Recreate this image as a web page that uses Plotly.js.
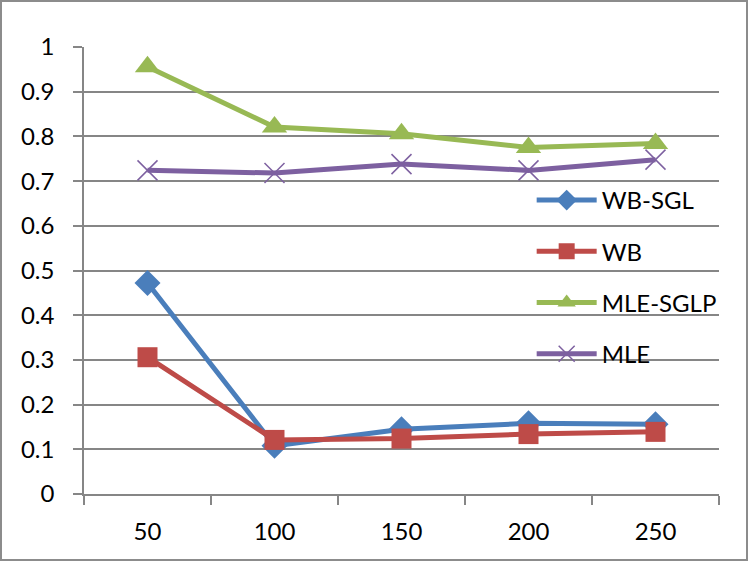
<!DOCTYPE html>
<html>
<head>
<meta charset="utf-8">
<script src="https://cdn.plot.ly/plotly-3.0.1.min.js"></script>
<style>
  html, body { margin: 0; padding: 0; background: #fff; }
  #myChart { width: 744px; height: 557px; border: 2px solid #8c8c8c; }
</style>
</head>
<body>
<div id="myChart"></div>
<script>
var categories = ["50", "100", "150", "200", "250"];
var wbSgl   = [0.472, 0.108, 0.145, 0.158, 0.156];
var wb      = [0.306, 0.121, 0.124, 0.134, 0.139];
var mleSglp = [0.956, 0.821, 0.806, 0.775, 0.784];
var mle     = [0.724, 0.718, 0.738, 0.724, 0.748];

var names   = ["WB-SGL", "WB", "MLE-SGLP", "MLE"];
var values  = [wbSgl, wb, mleSglp, mle];
var colours = ["#4a7ebb", "#be4b48", "#98b954", "#7d60a0"];
var symbols = ["diamond", "square", "triangle-up", "x-thin"];
var sizes   = [20, 20, 22, 20];

var data = [];
for (let i = 0; i < names.length; i++) {
  data.push({
    x: categories,
    y: values[i],
    name: names[i],
    legendgroup: names[i],
    type: 'scatter',
    mode: 'lines+markers',
    line: { color: colours[i], width: 5 },
    marker: {
      symbol: symbols[i],
      color: colours[i],
      size: sizes[i],
      line: { color: colours[i], width: symbols[i] == 'x-thin' ? 1.5 : 0 }
    },
    hoverinfo: 'skip'
  });
}

var layout = {
  width: 744,
  height: 557,
  paper_bgcolor: '#ffffff',
  plot_bgcolor: '#ffffff',
  font: { family: 'Lato, sans-serif', size: 24, color: '#000000' },
  margin: { l: 82, r: 27, t: 45, b: 65, autoexpand: false },
  xaxis: {
    type: 'category',
    range: [-0.5, 4.5],
    showgrid: false,
    zeroline: false,
    showline: true,
    linecolor: '#868686',
    linewidth: 1.5,
    ticks: 'outside',
    tickson: 'boundaries',
    ticklen: 9,
    tickcolor: '#868686',
    tickwidth: 1.5,
    ticklabelstandoff: 15
  },
  yaxis: {
    range: [0, 1],
    dtick: 0.1,
    showgrid: true,
    gridcolor: '#868686',
    gridwidth: 1.5,
    zeroline: false,
    showline: true,
    linecolor: '#868686',
    linewidth: 1.5,
    ticks: 'outside',
    ticklen: 9,
    tickcolor: '#868686',
    tickwidth: 1.5,
    ticklabelstandoff: 14
  },
  legend: {
    x: 0.705,
    y: 0.707,
    xanchor: 'left',
    yanchor: 'top',
    bgcolor: 'rgba(0,0,0,0)',
    font: { size: 24 },
    itemwidth: 60,
    tracegroupgap: 17
  },
  showlegend: true
};

Plotly.newPlot('myChart', data, layout, { displayModeBar: false });
</script>
</body>
</html>
